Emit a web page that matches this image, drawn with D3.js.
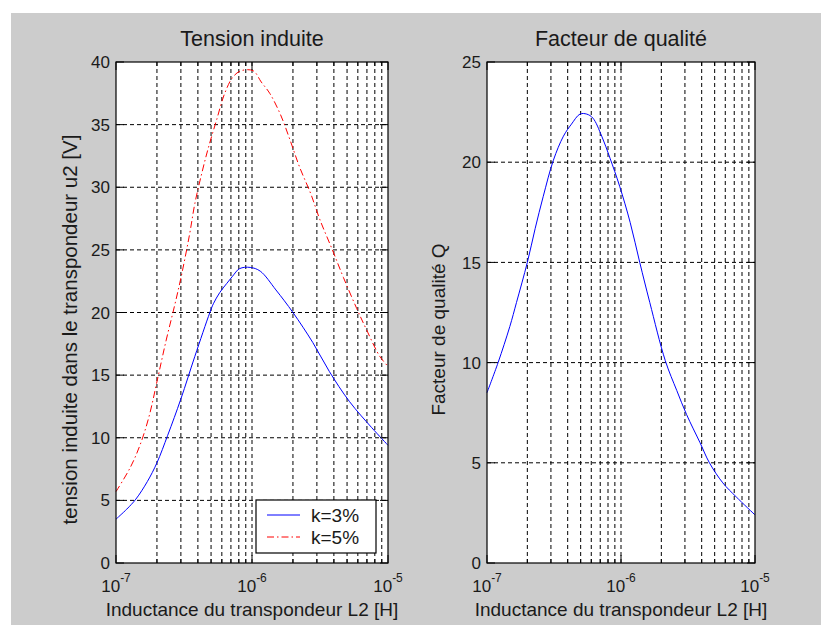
<!DOCTYPE html>
<html>
<head>
<meta charset="utf-8">
<script src="https://cdn.jsdelivr.net/npm/d3@7"></script>
<style>
  body { margin: 0; background: #fff; }
  text { font-family: "Liberation Sans", Arial, sans-serif; fill: #1a1a1a; }
</style>
</head>
<body>
<script>
// inductance L2 [H] and induced voltage, k = 3%
var l2K3 = [1.0e-7, 1.2e-7, 1.4e-7, 1.7e-7, 2.0e-7, 2.4e-7, 3.0e-7, 3.8e-7, 4.9e-7, 5.2e-7,
            5.8e-7, 6.5e-7, 7.2e-7, 8.1e-7, 9.7e-7, 1.15e-6, 1.5e-6, 2.0e-6, 2.8e-6, 3.7e-6,
            5.2e-6, 7.6e-6, 1.0e-5];
var uK3  = [3.5, 4.3, 5.1, 6.5, 8.0, 10.2, 13.1, 16.5, 20.0, 20.7,
            21.6, 22.3, 22.9, 23.5, 23.6, 23.3, 21.8, 20.0, 17.6, 15.3,
            12.9, 10.8, 9.4];

// induced voltage, k = 5%
var l2K5 = [1.0e-7, 1.27e-7, 1.5e-7, 1.74e-7, 2.04e-7, 2.34e-7, 2.69e-7, 3.02e-7, 3.47e-7,
            3.8e-7, 4.27e-7, 4.79e-7, 5.5e-7, 6.3e-7, 7.24e-7, 8.3e-7, 1.02e-6, 1.17e-6, 1.35e-6,
            1.62e-6, 1.9e-6, 2.24e-6, 2.7e-6, 3.16e-6, 3.9e-6, 4.7e-6, 5.9e-6, 6.9e-6, 8.7e-6, 1.0e-5];
var uK5  = [5.7, 7.6, 9.4, 11.6, 14.9, 17.8, 20.5, 22.9, 26.2,
            28.7, 31.1, 33.2, 35.4, 37.5, 38.8, 39.3, 39.3, 38.4, 37.5,
            35.8, 33.8, 31.6, 29.5, 27.4, 25.0, 22.8, 20.3, 18.7, 16.5, 15.7];

// quality factor Q
var l2Q = [1.0e-7, 1.21e-7, 1.48e-7, 1.66e-7, 2.0e-7, 2.29e-7, 2.63e-7, 3.13e-7, 3.72e-7, 4.27e-7,
           4.94e-7, 5.55e-7, 6.17e-7, 7.18e-7, 8.28e-7, 9.77e-7, 1.17e-6, 1.38e-6, 1.64e-6, 2.14e-6,
           2.61e-6, 3.09e-6, 3.89e-6, 4.57e-6, 5.75e-6, 7.24e-6, 1.0e-5];
var qVals = [8.5, 10.0, 11.8, 13.0, 15.0, 16.7, 18.3, 20.1, 21.3, 21.9,
             22.4, 22.4, 22.2, 21.3, 20.2, 18.8, 17.0, 15.0, 13.0, 10.1,
             8.6, 7.4, 6.0, 5.0, 4.0, 3.3, 2.4];

var xDomain = [1e-7, 1e-5];
var xMajor = [1e-7, 1e-6, 1e-5];
var xMajorExp = ["-7", "-6", "-5"];
var yTicksLeft = [0, 5, 10, 15, 20, 25, 30, 35, 40];
var yTicksRight = [0, 5, 10, 15, 20, 25];
var legendLabels = ["k=3%", "k=5%"];

var svg = d3.select("body").append("svg")
    .attr("width", 821)
    .attr("height", 625);

// figure background
svg.append("rect")
   .attr("x", 11).attr("y", 13)
   .attr("width", 810).attr("height", 612)
   .attr("fill", "#cccccc");

function zip(xs, ys) {
  return xs.map(function(d, i) { return { l: d, v: ys[i] }; });
}

function drawPanel(cfg) {
  var x = d3.scaleLog().domain(xDomain).range([cfg.x0, cfg.x1]);
  var y = d3.scaleLinear().domain([0, cfg.yMax]).range([cfg.y1, cfg.y0]);
  var g = svg.append("g");

  // axes area
  g.append("rect")
   .attr("x", cfg.x0).attr("y", cfg.y0)
   .attr("width", cfg.x1 - cfg.x0).attr("height", cfg.y1 - cfg.y0)
   .attr("fill", "#fff");

  var xAll = x.ticks();
  var inner = xAll.filter(function(d) { return d > xDomain[0] * 1.001 && d < xDomain[1] * 0.999; });

  // dotted grid
  g.selectAll(".vgrid").data(inner).enter().append("line")
   .attr("x1", function(d) { return x(d); }).attr("x2", function(d) { return x(d); })
   .attr("y1", cfg.y0).attr("y2", cfg.y1)
   .attr("stroke", "#000").attr("stroke-width", 1)
   .attr("stroke-dasharray", "4,3");
  g.selectAll(".hgrid").data(cfg.yTicks.slice(1, -1)).enter().append("line")
   .attr("x1", cfg.x0).attr("x2", cfg.x1)
   .attr("y1", function(d) { return y(d); }).attr("y2", function(d) { return y(d); })
   .attr("stroke", "#000").attr("stroke-width", 1)
   .attr("stroke-dasharray", "4,3");

  // curves
  cfg.series.forEach(function(s) {
    g.append("path")
     .datum(s.data)
     .attr("fill", "none")
     .attr("stroke", s.color)
     .attr("stroke-width", 1)
     .attr("stroke-dasharray", s.dash)
     .attr("d", d3.line()
        .curve(d3.curveCatmullRom.alpha(0.5))
        .x(function(d) { return x(d.l); })
        .y(function(d) { return y(d.v); }));
  });

  // tick marks inside the box
  xAll.forEach(function(d) {
    var major = xMajor.some(function(m) { return Math.abs(m - d) / m < 1e-6; });
    var len = major ? 8 : 4;
    g.append("line").attr("x1", x(d)).attr("x2", x(d))
     .attr("y1", cfg.y1).attr("y2", cfg.y1 - len).attr("stroke", "#000");
    g.append("line").attr("x1", x(d)).attr("x2", x(d))
     .attr("y1", cfg.y0).attr("y2", cfg.y0 + len).attr("stroke", "#000");
  });
  cfg.yTicks.forEach(function(d) {
    g.append("line").attr("x1", cfg.x0).attr("x2", cfg.x0 + 8)
     .attr("y1", y(d)).attr("y2", y(d)).attr("stroke", "#000");
    g.append("line").attr("x1", cfg.x1).attr("x2", cfg.x1 - 8)
     .attr("y1", y(d)).attr("y2", y(d)).attr("stroke", "#000");
  });

  // box
  g.append("rect")
   .attr("x", cfg.x0).attr("y", cfg.y0)
   .attr("width", cfg.x1 - cfg.x0).attr("height", cfg.y1 - cfg.y0)
   .attr("fill", "none").attr("stroke", "#000").attr("stroke-width", 1.2);

  // y tick labels
  g.selectAll(".ylab").data(cfg.yTicks).enter().append("text")
   .attr("x", cfg.x0 - 6)
   .attr("y", function(d) { return y(d); })
   .attr("dy", "0.36em")
   .attr("text-anchor", "end")
   .style("font-size", "17px")
   .text(function(d) { return d; });

  // x tick labels 10^n
  xMajor.forEach(function(d, i) {
    var t = g.append("text")
     .attr("x", x(d))
     .attr("y", 592)
     .attr("text-anchor", "middle")
     .style("font-size", "17px");
    t.append("tspan").text("10");
    t.append("tspan").attr("dy", -10).style("font-size", "12px").text(xMajorExp[i]);
  });

  // title and labels
  g.append("text")
   .attr("x", (cfg.x0 + cfg.x1) / 2).attr("y", 46)
   .attr("text-anchor", "middle")
   .style("font-size", "21.5px")
   .text(cfg.title);
  g.append("text")
   .attr("x", (cfg.x0 + cfg.x1) / 2).attr("y", 616)
   .attr("text-anchor", "middle")
   .style("font-size", "19px")
   .text("Inductance du transpondeur L2 [H]");
  g.append("text")
   .attr("transform", "translate(" + cfg.ylabelX + "," + ((cfg.y0 + cfg.y1) / 2 + 17) + ") rotate(-90)")
   .attr("text-anchor", "middle")
   .style("font-size", cfg.ylabelSize)
   .text(cfg.ylabel);

  return { x: x, y: y, g: g };
}

var series3 = { data: zip(l2K3, uK3), color: "#0000ff", dash: null };
var series5 = { data: zip(l2K5, uK5), color: "#ff0000", dash: "7,3,1.5,3" };

var left = drawPanel({
  x0: 116, x1: 388, y0: 62, y1: 563, yMax: 40, yTicks: yTicksLeft,
  title: "Tension induite",
  ylabel: "tension induite dans le transpondeur u2 [V]", ylabelX: 77, ylabelSize: "20.5px",
  series: [series3, series5]
});

drawPanel({
  x0: 487, x1: 755, y0: 62, y1: 563, yMax: 25, yTicks: yTicksRight,
  title: "Facteur de qualité",
  ylabel: "Facteur de qualité Q", ylabelX: 445, ylabelSize: "19px",
  series: [{ data: zip(l2Q, qVals), color: "#0000ff", dash: null }]
});

// legend
var leg = left.g.append("g");
leg.append("rect")
   .attr("x", 256).attr("y", 500).attr("width", 120).attr("height", 53)
   .attr("fill", "#fff").attr("stroke", "#000").attr("stroke-width", 1.2);
[series3, series5].forEach(function(s, i) {
  var yy = 515 + i * 22;
  leg.append("line")
     .attr("x1", 267).attr("x2", 300).attr("y1", yy).attr("y2", yy)
     .attr("stroke", s.color).attr("stroke-width", 1)
     .attr("stroke-dasharray", s.dash);
  leg.append("text")
     .attr("x", 311).attr("y", yy).attr("dy", "0.36em")
     .style("font-size", "19px")
     .text(legendLabels[i]);
});
</script>
</body>
</html>
